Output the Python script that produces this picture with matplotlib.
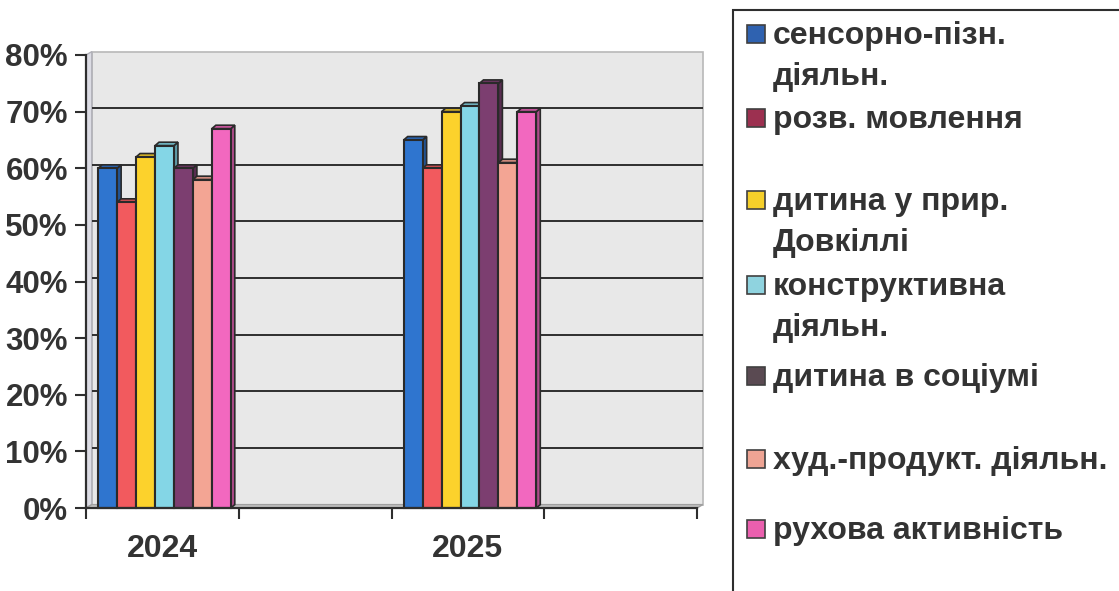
import numpy as np
import matplotlib
matplotlib.use("Agg")
import matplotlib.pyplot as plt
from matplotlib.patches import Polygon, Rectangle

plt.rcParams['font.family'] = ['Liberation Sans', 'DejaVu Sans']
plt.rcParams['font.weight'] = 'bold'

# --- Data ---
categories = ["2024", "", "2025", ""]
series_names = ["сенсорно-пізн.\nдіяльн.", "розв. мовлення", "дитина у прир.\nДовкіллі",
                "конструктивна\nдіяльн.", "дитина в соціумі", "худ.-продукт. діяльн.",
                "рухова активність"]
values_2024 = [0.60, 0.54, 0.62, 0.64, 0.60, 0.58, 0.67]
values_2025 = [0.65, 0.60, 0.70, 0.71, 0.75, 0.61, 0.70]
series_values = np.array([values_2024, values_2025]).T  # one row per series
year_slots = [0, 2]
colors = ["#2f75cf", "#f25a5e", "#fcd22c", "#84d6e6", "#7c3e70", "#f3a594", "#f268bf"]
legend_colors = ["#2f62b0", "#9c3050", "#f5cf2a", "#8fd3df", "#5a4a52", "#eea494", "#ea5fae"]

W, H = 1119, 591
TXT = "#333333"


def shade(c, f):
    r, g, b = matplotlib.colors.to_rgb(c)
    return (r * f, g * f, b * f)


fig = plt.figure(figsize=(W / 100, H / 100), dpi=100)
ax = fig.add_axes([86 / W, 1 - 508 / H, 611 / W, 453 / H])
ax.set_xlim(-0.5, 3.5)
ax.set_ylim(0, 0.8)
ax.set_facecolor("none")

# 3D depth (in data units)
dx, dy = 0.038, 0.006
bdx, bdy = 0.026, 0.006

# back wall, side wall, floor
x0, x1 = -0.5, 3.5
ax.add_patch(Rectangle((x0 + dx, dy), x1 - x0, 0.8, facecolor="#e8e8e8",
                       edgecolor="#b8b8b8", lw=1.2, zorder=0, clip_on=False))
ax.add_patch(Polygon([(x0, 0), (x0 + dx, dy), (x0 + dx, 0.8 + dy), (x0, 0.8)],
                     closed=True, facecolor="#dcdce4", edgecolor="#b0b0b8", lw=1, zorder=0.5,
                     clip_on=False))
ax.add_patch(Polygon([(x0, 0), (x1, 0), (x1 + dx, dy), (x0 + dx, dy)],
                     closed=True, facecolor="#c4c4c4", edgecolor="#a0a0a0", lw=1, zorder=0.5,
                     clip_on=False))
for g in np.arange(0.1, 0.75, 0.1):
    ax.plot([x0 + dx, x1 + dx], [g + dy, g + dy], color="#2e2e2e", lw=1.4, zorder=1,
            solid_capstyle="butt", clip_on=False)

# bars with simple 3D faces
bw = 0.124
start = -0.42
z = 2
for j, slot in enumerate(year_slots):
    for i in range(len(series_names)):
        v = series_values[i, j]
        left = slot + start + i * bw
        col = colors[i]
        side = Polygon([(left + bw, 0), (left + bw + bdx, bdy), (left + bw + bdx, v + bdy), (left + bw, v)],
                       closed=True, facecolor=shade(col, 0.72), edgecolor="#2a2a2a", lw=1.2, zorder=z,
                       clip_on=False)
        top = Polygon([(left, v), (left + bw, v), (left + bw + bdx, v + bdy), (left + bdx, v + bdy)],
                      closed=True, facecolor=shade(col, 0.85), edgecolor="#2a2a2a", lw=1.2, zorder=z,
                      clip_on=False)
        ax.add_patch(side)
        ax.add_patch(top)
        ax.bar(left, v, width=bw, align="edge", color=col, edgecolor="#2a2a2a", lw=1.5,
               zorder=z + 0.5, clip_on=False)
        z += 1

# axes styling
for s in ["top", "right"]:
    ax.spines[s].set_visible(False)
for s in ["left", "bottom"]:
    ax.spines[s].set_color("#2e2e2e")
    ax.spines[s].set_linewidth(1.6)
    ax.spines[s].set_zorder(50)
ax.set_yticks(np.arange(0, 0.81, 0.1))
ax.set_yticklabels([f"{int(round(t * 100))}%" for t in np.arange(0, 0.81, 0.1)])
ax.set_xticks([-0.5, 0.5, 1.5, 2.5, 3.5])
ax.set_xticklabels([])
ax.set_xticks(range(len(categories)), minor=True)
ax.set_xticklabels(categories, minor=True)
ax.tick_params(axis="y", length=8, width=1.5, color="#2e2e2e", pad=5,
               labelsize=22.5, labelcolor=TXT)
ax.tick_params(axis="x", which="major", length=8, width=1.5, color="#2e2e2e")
ax.tick_params(axis="x", which="minor", length=0, pad=19, labelsize=23, labelcolor=TXT)

# legend box drawn by hand
fig.add_artist(Rectangle((733 / W, -0.1), 0.5, 1 - 10 / H + 0.1, transform=fig.transFigure,
                         facecolor="white", edgecolor="#2e2e2e", lw=1.5, zorder=0))
legend_baselines = [44, 128, 210, 295, 386, 469, 539]
line_step = 41
for name, col, base in zip(series_names, legend_colors, legend_baselines):
    fig.add_artist(Rectangle((747 / W, 1 - (base - 1) / H), 18 / W, 18 / H,
                             transform=fig.transFigure, facecolor=col, edgecolor="#404040",
                             lw=1.2))
    for k, line in enumerate(name.split("\n")):
        fig.text(773 / W, 1 - (base + k * line_step) / H, line, fontsize=23,
                 color=TXT, va="baseline", ha="left")

fig.savefig("out.png", dpi=100)
